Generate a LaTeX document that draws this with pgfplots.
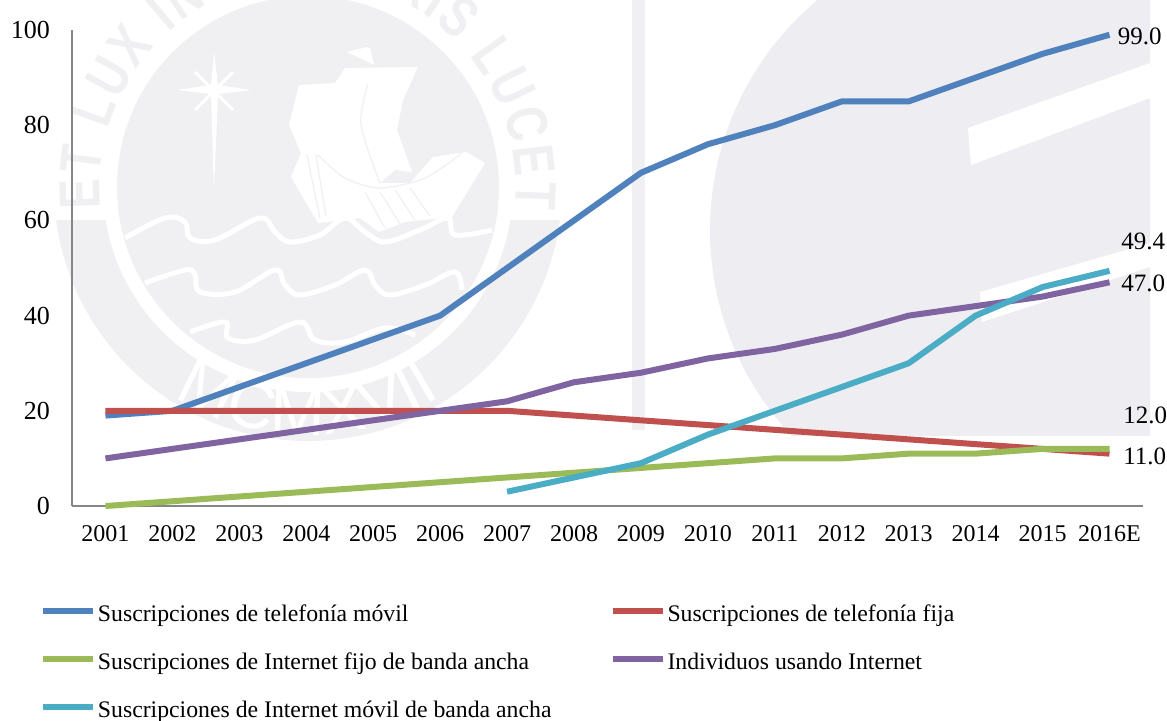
\documentclass[border=0pt]{standalone}
\usepackage{fontspec}
\setmainfont{Liberation Serif}
\newfontfamily\wmfont{Liberation Sans}[FakeStretch=0.78]
\newfontfamily\wmfontb{Liberation Sans}
\usepackage{pgfplots}
\pgfplotsset{compat=1.18}
\usepackage{pgfplotstable}
\usetikzlibrary{decorations.text}
\definecolor{wm}{HTML}{EEEEF2}
\definecolor{wml}{HTML}{F0F0F3}
\definecolor{axg}{HTML}{868686}
\definecolor{cblue}{HTML}{4F81BD}
\definecolor{cred}{HTML}{C0504D}
\definecolor{cgreen}{HTML}{9BBB59}
\definecolor{cpurple}{HTML}{8064A2}
\definecolor{cteal}{HTML}{4BACC6}
\pgfplotstableread{
x movil fija fijoba indiv
0 19 20 0 10
1 20 20 1 12
2 25 20 2 14
3 30 20 3 16
4 35 20 4 18
5 40 20 5 20
6 50 20 6 22
7 60 19 7 26
8 70 18 8 28
9 76 17 9 31
10 80 16 10 33
11 85 15 10 36
12 85 14 11 40
13 90 13 11 42
14 95 12 12 44
15 99 11 12 47
}\datatable
\pgfplotstableread{
x movilba
6 3
7 6
8 9
9 15
10 20
11 25
12 30
13 40
14 46
15 49.4
}\tealtable
\begin{document}
\begin{tikzpicture}
\useasboundingbox (0,0) rectangle (583.5pt,360pt);
% watermark
\begin{scope}[x=0.5pt,y=-0.5pt,yshift=360pt]
 % left seal
 \begin{scope}
  \clip (0,220) rectangle (640,460);
  \fill[wml] (308,187) circle (254);
 \end{scope}
 \fill[white] (308,187) circle (205);
 \fill[wml] (308,187) circle (191);
 % ship
 \fill[white] (347,52) -- (367,47) -- (370,48) -- (374,65) -- (368,62) -- cycle;
 \fill[white] (299,85) -- (335,83) -- (345,68) -- (418,67) -- (403,100) -- (397,130) -- (412,172) -- (395,170) -- (380,183)
   -- (410,183) -- (433,157) -- (466,152) -- (485,163) -- (452,217) -- (405,222) -- (379,232) -- (360,218) -- (318,223) -- (291,177) -- (301,153) -- (289,125) -- cycle;
 \draw[wml,line width=0.6pt] plot[smooth] coordinates {(368,84) (361,125) (380,183)};
 \draw[wml,line width=0.6pt] plot[smooth] coordinates {(318,155) (345,178) (380,188) (425,178) (462,153)};
 \draw[wml,line width=0.6pt] (307,155) -- (320,218) (316,155) -- (326,216) (365,192) -- (385,228) (380,192) -- (400,224) (395,190) -- (415,220) (410,188) -- (430,216);
 % star
 \fill[white] (214,52) -- (218,85) -- (251,90) -- (218,94) -- (214,190) -- (211,94) -- (177,90) -- (211,85) -- cycle;
 \draw[white,line width=1.5pt] (195,72) -- (233,110) (233,72) -- (195,110);
 % waves
 \draw[white,line width=2.5pt] plot[smooth,tension=0.6] coordinates {(125,238) (165,218) (185,222) (190,238) (215,240) (260,218) (275,232) (290,242) (320,235) (345,218) (365,232) (385,242) (420,230) (448,218) (455,235) (492,230)};
 \draw[white,line width=2.5pt] plot[smooth,tension=0.6] coordinates {(145,283) (185,270) (195,275) (200,292) (235,292) (275,270) (285,285) (300,295) (335,285) (365,270) (375,285) (390,295) (425,285) (455,272) (462,290)};
 \draw[white,line width=2.5pt] plot[smooth,tension=0.6] coordinates {(190,332) (225,322) (228,338) (255,340) (300,322) (315,340) (345,342) (385,328) (415,335)};
 % right block
 \begin{scope}
  \clip (640,0) rectangle (1150,435);
  \fill[wm] (1010,230) circle (300);
 \end{scope}
 \fill[white] (968,128) -- (1150,63) -- (1150,98) -- (971,165) -- cycle;
 \fill[white] (980,292) -- (1150,243) -- (1150,267) -- (982,322) -- cycle;
 \fill[wml] (632,0) rectangle (645,430);
\end{scope}
% watermark lettering
\begin{scope}[x=0.5pt,y=0.5pt]
 \path[decorate,decoration={text along path,text align={fit to path},text color=wml,
   text={|\wmfont\bfseries\fontsize{29}{29}\selectfont|ET LUX IN TENEBRIS LUCET}}]
   (308,533) ++(186:208) arc (186:-6:208);
 \path[decorate,decoration={text along path,text align={center},text color=white,
   text={|\wmfontb\fontsize{33}{33}\selectfont|MCMXVII}}]
   (308,533) ++(228:248) arc (228:312:248);
\end{scope}
\begin{axis}[
  at={(36pt,107pt)},
  scale only axis,
  width=535.5pt,height=238pt,
  xmin=-0.5,xmax=15.5,ymin=0,ymax=100,
  axis x line*=bottom,axis y line*=left,
  axis line style={draw=axg,line width=0.75pt},
  major tick length=0pt,
  xtick={0,...,15},
  xticklabels={2001,2002,2003,2004,2005,2006,2007,2008,2009,2010,2011,2012,2013,2014,2015,2016E},
  ytick={0,20,40,60,80,100},
  xticklabel style={font=\fontsize{12}{14}\selectfont,yshift=-6pt,text height=8pt},
  yticklabel style={font=\fontsize{13}{15}\selectfont,xshift=-7.5pt},
  /pgf/number format/assume math mode=true,
  clip=false,
  legend columns=2,
  legend cell align=left,
  legend style={
    at={(axis description cs:-0.0299,-0.2055)},anchor=north west,
    draw=none,fill=none,inner sep=0pt,outer sep=0pt,
    font=\fontsize{11.87}{14}\selectfont,
    nodes={inner sep=0pt,text height=9pt,text depth=3pt},
    /tikz/row sep=12pt,
    /tikz/column 2/.style={column sep=29pt},
  },
  legend image code/.code={\draw[#1,line width=3pt] (0,0.5ex) -- (25pt,0.5ex);},
  every axis plot/.append style={line width=3pt,line join=round,no marks},
]
\addplot[cblue] table[x=x,y=movil] {\datatable};
\addlegendentry{\hspace{1pt}Suscripciones de telefonía móvil}
\addplot[cred] table[x=x,y=fija] {\datatable};
\addlegendentry{\hspace{1pt}Suscripciones de telefonía fija}
\addplot[cgreen] table[x=x,y=fijoba] {\datatable};
\addlegendentry{\hspace{1pt}Suscripciones de Internet fijo de banda ancha}
\addplot[cpurple] table[x=x,y=indiv] {\datatable};
\addlegendentry{\hspace{1pt}Individuos usando Internet}
\addplot[cteal] table[x=x,y=movilba] {\tealtable};
\addlegendentry{\hspace{1pt}Suscripciones de Internet móvil de banda ancha}
\foreach \v/\yy/\dx in {99.0/98.7/15.12,49.4/55.6/15.17,47.0/46.7/15.17,12.0/19.1/15.2,11.0/10.5/15.2}{
  \edef\tmp{\noexpand\node[anchor=west,inner sep=0pt,font=\noexpand\fontsize{12.5}{15}\noexpand\selectfont] at (axis cs:\dx,\yy) {\v};}
  \tmp
}
\end{axis}
\end{tikzpicture}
\end{document}
